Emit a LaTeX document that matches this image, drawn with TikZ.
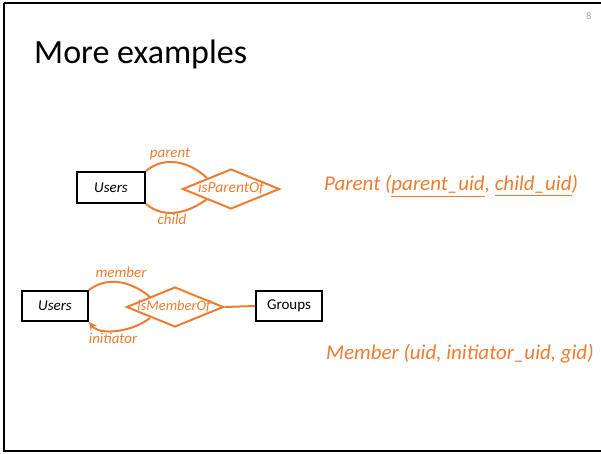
\documentclass[tikz,border=0pt]{standalone}
\usepackage{fontspec}
\setmainfont{Carlito}
\usetikzlibrary{shapes.geometric,arrows.meta}
\definecolor{eor}{RGB}{237,125,49}
\tikzset{
  entity/.style={draw=black,line width=2pt,minimum width=66pt,minimum height=30pt,inner sep=0pt,font=\fontsize{15}{17}\selectfont\itshape},
  rel/.style={diamond,draw=eor,line width=2pt,minimum width=97pt,minimum height=40pt,aspect=2.4,inner sep=0pt},
  reltext/.style={text=eor,font=\fontsize{15.5}{17}\selectfont\itshape,inner sep=0pt},
  role/.style={text=eor,font=\fontsize{15}{17}\selectfont\itshape,inner sep=0pt},
  conn/.style={draw=eor,line width=2pt},
  schema/.style={text=eor,font=\fontsize{21}{24}\selectfont\itshape,inner sep=0pt,anchor=west},
}
\begin{document}
\begin{tikzpicture}[x=1pt,y=-1pt]
\useasboundingbox (0,0) rectangle (601,453);
\fill[white] (0,0) rectangle (601,453);
\draw[line width=2pt] (4,3) -- (601,3);
\draw[line width=2pt] (4,3) -- (4,451) -- (601,451);
\node[anchor=west,inner sep=0pt,font=\fontsize{34}{40}\selectfont] (title) at (34,54) {More examples};
\node[text=gray!70,font=\fontsize{10}{11}\selectfont,inner sep=0pt] (pg) at (589,16) {8};
% first diagram
\node[entity,minimum width=68pt,minimum height=31pt] (u1) at (111,187.5) {Users};
\node[rel] (r1) at (231,189) {};
\node[reltext] (r1t) at (231,188) {isParentOf};
\draw[conn] (u1.north east) .. controls (165,155) and (190,162) .. (207,178) coordinate (p1end);
\draw[conn] (u1.south east) .. controls (165,220) and (190,212) .. (207,199) coordinate (c1end);
\node[role] (lp) at (170,154) {parent};
\node[role] (lc) at (172,219) {child};
% second diagram
\node[entity] (u2) at (55,306) {Users};
\node[rel] (r2) at (175,307) {};
\node[reltext,font=\fontsize{14.5}{16}\selectfont\itshape] (r2t) at (174,306) {isMemberOf};
\node[entity,font=\fontsize{15}{17}\selectfont] (g2) at (289,306) {Groups};
\draw[conn] (r2.east) -- (g2.west);
\draw[conn] (u2.north east) .. controls (110,274) and (135,284) .. (150,297) coordinate (m2end);
\draw[conn,-{Stealth[length=8pt,width=8pt]}] (150,318) coordinate (i2start) .. controls (132,332) and (100,336) .. (u2.south east);
\node[role] (lm) at (121,272) {member};
\node[role] (li) at (113,338) {initiator};
% schemas
\node[schema] (s1) at (324,186) {Parent (\underline{parent\_uid}, \underline{child\_uid})};
\node[schema] (s2) at (326,354) {Member (uid, initiator\_uid, gid)};
\end{tikzpicture}
\end{document}
